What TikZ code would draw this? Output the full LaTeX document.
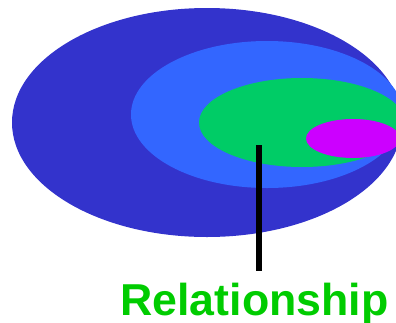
\documentclass[tikz,border=0pt]{standalone}
\usepackage{fontspec}
\setmainfont{Liberation Sans}
\usetikzlibrary{shapes.geometric}
\definecolor{dkblue}{HTML}{3333CC}
\definecolor{ltblue}{HTML}{3366FF}
\definecolor{grn}{HTML}{00CC66}
\definecolor{mag}{HTML}{CC00FF}
\definecolor{txtgreen}{HTML}{00CC00}
\begin{document}
\begin{tikzpicture}[x=1pt,y=-1pt,
  blob/.style={ellipse, inner sep=0pt, draw=none},
  leader/.style={line width=6pt, black},
  title/.style={font=\bfseries\fontsize{44.7}{50}\selectfont, text=txtgreen, inner sep=0pt}]
\useasboundingbox (0,0) rectangle (396,322);
\clip (0,0) rectangle (396,322);
\node[blob, fill=dkblue, minimum width=390pt, minimum height=229pt] (outer) at (207,122.5) {};
\node[blob, fill=ltblue, minimum width=272pt, minimum height=147pt] (middle) at (267,114.5) {};
\node[blob, fill=grn, minimum width=206pt, minimum height=89pt] (inner) at (302,122.5) {};
\node[blob, fill=mag, minimum width=94pt, minimum height=39pt] (core) at (353,138.5) {};
\node[title, anchor=base] (label) at (254.5,315) {Relationship};
\coordinate (lt) at (258.5,145);
\coordinate (lb) at (258.5,271);
\draw[leader] (lt) -- (lb);
\end{tikzpicture}
\end{document}
